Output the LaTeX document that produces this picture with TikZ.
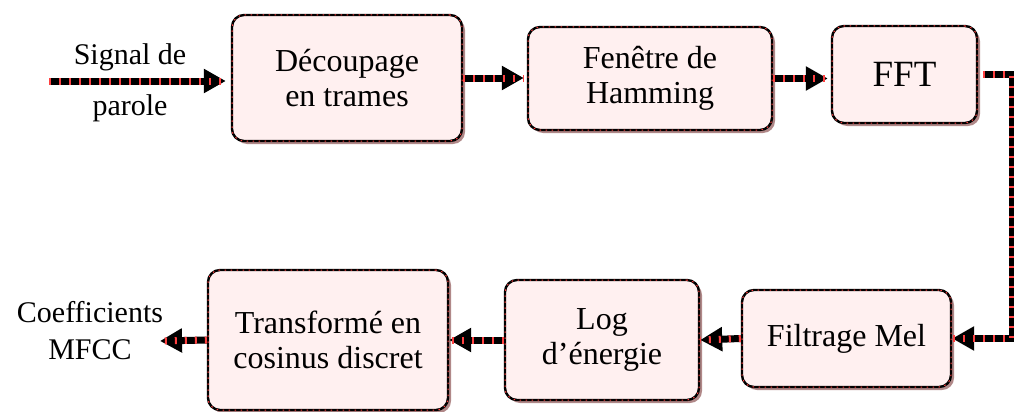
\documentclass[tikz,border=0pt]{standalone}
\usepackage{fontspec}
\setmainfont{Liberation Serif}
\usetikzlibrary{arrows.meta,shadows}
\definecolor{boxfill}{RGB}{255,240,240}
\definecolor{stripered}{RGB}{255,64,64}
\definecolor{shadowbrown}{RGB}{176,136,136}

\tikzset{
  block/.style={draw=black, line width=2.4pt, rounded corners=12pt, fill=boxfill,
    align=center, font=\fontsize{32}{35}\selectfont,
    drop shadow={fill=shadowbrown, shadow xshift=3pt, shadow yshift=-3pt, opacity=1},
    postaction={draw=stripered, line width=1pt, dash pattern=on 1.5pt off 4.5pt}},
  flow/.style={draw=black, line width=7pt, -{Triangle[length=22pt,width=23pt]}},
  stripe/.style={draw=stripered, line width=7pt, dash pattern=on 2pt off 8pt},
  lbl/.style={font=\fontsize{30}{37}\selectfont, align=center}
}
\newcommand{\flowpath}[2][]{\draw[flow,#1] #2; \draw[stripe,#1] #2;}

\begin{document}
\begin{tikzpicture}[x=1pt,y=-1pt]
\useasboundingbox (0,0) rectangle (1014,412);
% blocks
\node[block, minimum width=230pt, minimum height=126pt] (decoup) at (347,78) {Découpage\\en trames};
\node[block, minimum width=244pt, minimum height=103pt] (fenetre) at (650,78.5) {Fenêtre de\\Hamming};
\node[block, minimum width=145pt, minimum height=97pt, font=\fontsize{37}{40}\selectfont] (fft) at (904.5,74.5) {FFT};
\node[block, minimum width=209pt, minimum height=97pt] (mel) at (846.5,338.5) {Filtrage Mel};
\node[block, minimum width=194pt, minimum height=120pt] (logen) at (602,340) {Log\\d’énergie};
\node[block, minimum width=240pt, minimum height=140pt] (dct) at (328,340) {Transformé en\\cosinus discret};
% labels
\node[lbl] (sigtop) at (130,57) {Signal de};
\node[lbl] (sigbot) at (130,108) {parole};
\coordinate (sigin) at (49,81);
\node[lbl] (mfcc) at (90,331) {Coefficients\\MFCC};
\coordinate (mfccout) at (160,341);
% arrows
\flowpath[shorten >=5pt]{(sigin) -- (sigin -| decoup.west)}
\flowpath[shorten >=3pt]{(decoup.east) -- (decoup.east -| fenetre.west)}
\flowpath[shorten >=3pt]{(fenetre.east) -- (fenetre.east -| fft.west)}
\flowpath{([xshift=5pt]fft.east) -- ++(29,0) |- (mel.east)}
\flowpath{(mel.west) -- (logen.east)}
\flowpath{(logen.west) -- (dct.east)}
\flowpath{(dct.west) -- (mfccout)}
\end{tikzpicture}
\end{document}
